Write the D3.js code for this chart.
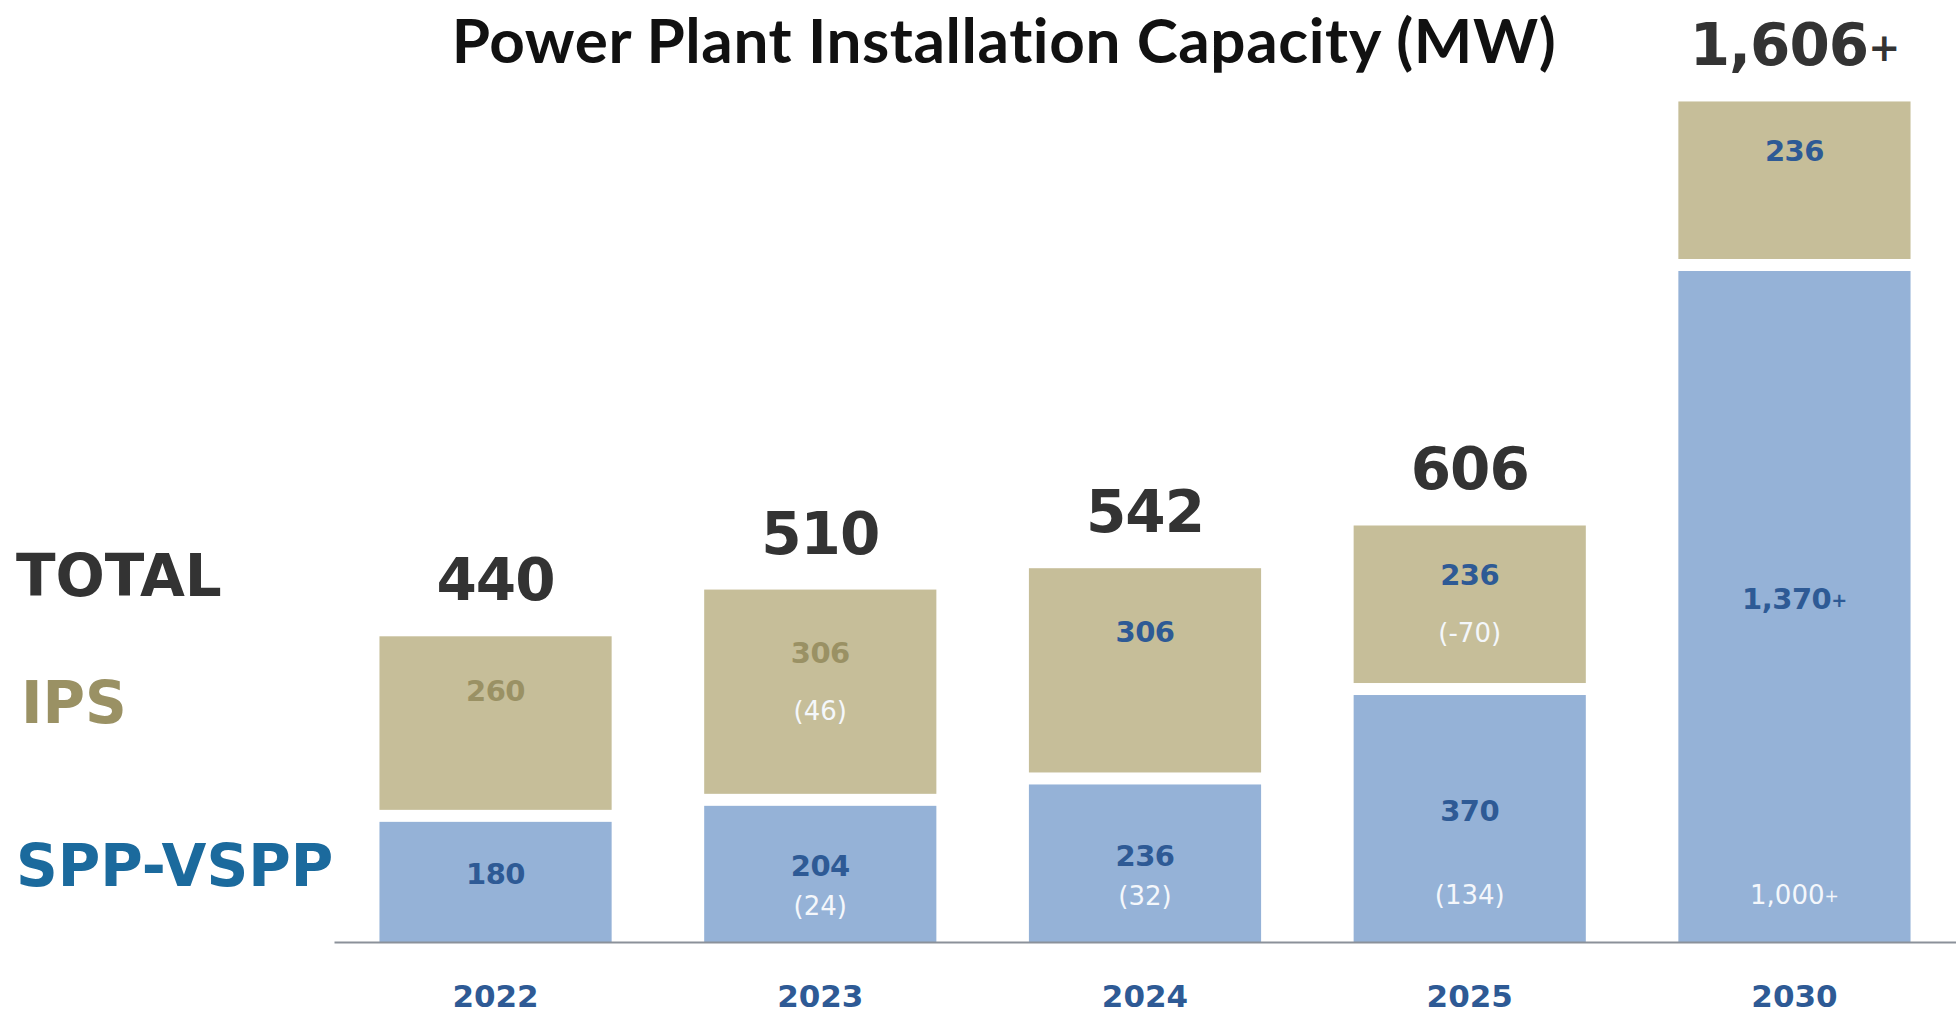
<!DOCTYPE html>
<html lang="en">
<head>
	<meta charset="UTF-8">
	<script src="https://d3js.org/d3.v7.min.js"></script>
	<title>Power Plant Installation Capacity</title>
</head>
<style>
	body {
		margin: 0;
		background: #fff;
	}
	svg {
		display: block;
	}
	.num {
		font-family: "DejaVu Sans", sans-serif;
		font-weight: bold;
	}
	.note {
		font-family: "DejaVu Sans", sans-serif;
		font-weight: normal;
		fill: #f4f7fb;
	}
</style>
<body>
	<svg width="1956" height="1017"></svg>
</body>
<script>
	var years = ['2022', '2023', '2024', '2025', '2030'];
	var sppValues = [180, 204, 236, 370, 1370];
	var ipsValues = [260, 306, 306, 236, 236];
	var totalLabels = ['440', '510', '542', '606', '1,606+'];
	var sppLabels = ['180', '204', '236', '370', '1,370+'];
	var ipsLabels = ['260', '306', '306', '236', '236'];
	var sppNotes = ['', '(24)', '(32)', '(134)', '1,000+'];
	var ipsNotes = ['', '(46)', '', '(-70)', ''];

	// the first two IPS labels are printed in olive, the rest in blue
	var ipsLabelTone = ['olive', 'olive', 'blue', 'blue', 'blue'];

	var colors = {
		ips: '#c6be99',
		spp: '#95b2d7',
		blue: '#2e5a95',
		olive: '#9a9164',
		dark: '#333333',
		legendSpp: '#1b6a9d',
		axis: '#8b919a'
	};

	var svg = d3.select('svg');
	var baseY = 942;
	var gap = 12;

	var rows = years.map(function(y, i) {
		return {year: y, spp: sppValues[i], ips: ipsValues[i], total: totalLabels[i],
			sppLabel: sppLabels[i], ipsLabel: ipsLabels[i], sppNote: sppNotes[i],
			ipsNote: ipsNotes[i], tone: ipsLabelTone[i]};
	});

	var x = d3.scaleBand()
		.domain(years)
		.range([334, 1956])
		.paddingInner(0.285)
		.paddingOuter(0.14);

	// the 2030 bar is drawn on a compressed scale above 400 MW
	var h = d3.scaleLinear()
		.domain([0, 400, 1370])
		.range([0, 267, 671]);

	function sppTop(d) { return baseY - h(d.spp); }
	function ipsTop(d) { return sppTop(d) - gap - h(d.ips); }
	function cx(d) { return x(d.year) + x.bandwidth() / 2; }

	// writes "1,606+" with a smaller plus sign, as in the slide
	function plusText(sel, get) {
		sel.each(function(d) {
			var s = get(d);
			var t = d3.select(this);
			if (s.slice(-1) === '+') {
				t.append('tspan').text(s.slice(0, -1));
				t.append('tspan').attr('font-size', '0.66em').attr('dy', '-0.12em').text('+');
			} else {
				t.text(s);
			}
		});
	}

	// title
	svg.append('text')
		.attr('x', 1004)
		.attr('y', 63)
		.attr('text-anchor', 'middle')
		.attr('font-family', 'Lato, sans-serif')
		.attr('font-weight', 'bold')
		.attr('font-size', 62)
		.attr('letter-spacing', 0.6)
		.attr('fill', '#111')
		.text('Power Plant Installation Capacity (MW)');

	// legend labels on the left
	var legend = [
		{text: 'TOTAL', y: 596, color: colors.dark},
		{text: 'IPS', y: 723, color: colors.olive},
		{text: 'SPP-VSPP', y: 886, color: colors.legendSpp}
	];
	svg.append('g').selectAll('text')
		.data(legend)
		.enter()
		.append('text')
		.attr('class', 'num')
		.attr('x', function(d) { return d.text === 'IPS' ? 21 : 16; })
		.attr('y', function(d) { return d.y; })
		.attr('font-size', 58)
		.attr('fill', function(d) { return d.color; })
		.text(function(d) { return d.text; });

	var g = svg.append('g');

	var bars = g.selectAll('g.bar')
		.data(rows)
		.enter()
		.append('g')
		.attr('class', 'bar');

	bars.append('rect')
		.attr('x', function(d) { return x(d.year); })
		.attr('width', x.bandwidth())
		.attr('y', sppTop)
		.attr('height', function(d) { return h(d.spp); })
		.attr('fill', colors.spp);

	bars.append('rect')
		.attr('x', function(d) { return x(d.year); })
		.attr('width', x.bandwidth())
		.attr('y', ipsTop)
		.attr('height', function(d) { return h(d.ips); })
		.attr('fill', colors.ips);

	// totals above the bars
	bars.append('text')
		.attr('class', 'num')
		.attr('x', cx)
		.attr('y', function(d) { return ipsTop(d) - 36; })
		.attr('text-anchor', 'middle')
		.attr('font-size', 58)
		.attr('letter-spacing', -1)
		.attr('fill', colors.dark)
		.call(plusText, function(d) { return d.total; });

	// SPP labels
	function sppLabelY(d) { return (sppTop(d) + baseY) / 2 - 8; }

	bars.append('text')
		.attr('class', 'num')
		.attr('x', cx)
		.attr('y', sppLabelY)
		.attr('dy', '0.36em')
		.attr('text-anchor', 'middle')
		.attr('font-size', 29)
		.attr('letter-spacing', -0.5)
		.attr('fill', colors.blue)
		.call(plusText, function(d) { return d.sppLabel; });

	bars.append('text')
		.attr('class', 'note')
		.attr('x', cx)
		.attr('y', function(d) { return Math.max(baseY - 47, sppLabelY(d) + 40); })
		.attr('dy', '0.36em')
		.attr('text-anchor', 'middle')
		.attr('font-size', 26)
		.call(plusText, function(d) { return d.sppNote; });

	// IPS labels
	function ipsLabelY(d) { return ipsTop(d) + h(d.ips) * 0.31; }

	bars.append('text')
		.attr('class', 'num')
		.attr('x', cx)
		.attr('y', ipsLabelY)
		.attr('dy', '0.36em')
		.attr('text-anchor', 'middle')
		.attr('font-size', 29)
		.attr('letter-spacing', -0.5)
		.attr('fill', function(d) { return colors[d.tone]; })
		.text(function(d) { return d.ipsLabel; });

	bars.append('text')
		.attr('class', 'note')
		.attr('x', cx)
		.attr('y', function(d) { return ipsLabelY(d) + 58; })
		.attr('dy', '0.36em')
		.attr('text-anchor', 'middle')
		.attr('font-size', 26)
		.text(function(d) { return d.ipsNote; });

	// baseline and year labels
	var axis = svg.append('g')
		.attr('transform', 'translate(0,' + baseY + ')')
		.call(d3.axisBottom(x).tickSize(0).tickPadding(43).tickSizeOuter(0));

	axis.select('.domain')
		.attr('stroke', colors.axis)
		.attr('stroke-width', 2);

	axis.selectAll('text')
		.attr('class', 'num')
		.attr('font-size', 31)
		.attr('fill', colors.blue);
</script>
</html>
